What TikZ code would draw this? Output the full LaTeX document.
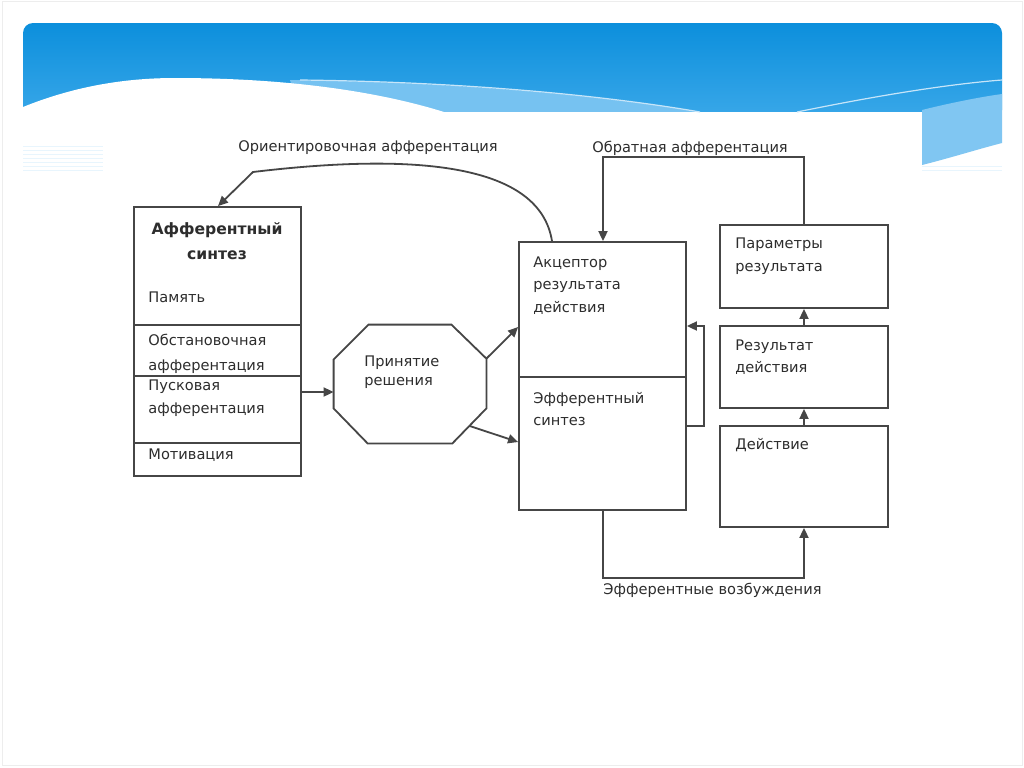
\documentclass[tikz,border=0pt]{standalone}
\usepackage{fontspec}
\setmainfont{DejaVu Sans}
\usetikzlibrary{arrows.meta,fit,calc}

\definecolor{hdrtop}{RGB}{12,143,220}
\definecolor{hdrbot}{RGB}{58,168,233}
\definecolor{hdrlight}{RGB}{128,198,242}
\definecolor{linegray}{RGB}{70,70,70}
\definecolor{txtgray}{RGB}{45,45,45}

\tikzset{
  box/.style={draw=linegray, line width=0.9pt, inner sep=0pt},
  wire/.style={draw=linegray, line width=0.9pt},
  arr/.style={draw=linegray, line width=0.9pt, -{Triangle[length=5pt,width=4.5pt]}},
  lbl/.style={inner sep=0pt, text=txtgray, align=left, font=\fontsize{7.3}{11.25}\selectfont},
}

\begin{document}
\begin{tikzpicture}[x=0.5pt,y=-0.5pt]
\useasboundingbox (0,0) rectangle (1024,767);

% slide background
\fill[white] (0,0) rectangle (1024,767);
\shade[top color=hdrtop,bottom color=hdrbot,rounded corners=5pt] (23,120) -- (23,23) -- (1002,23) -- (1002,120) -- cycle;
\fill[hdrlight] (922,110) .. controls (950,103) and (980,97) .. (1002,94) -- (1002,143) .. controls (975,150) and (950,158) .. (922,165) -- cycle;
\fill[hdrlight!85!hdrbot] (290,80) .. controls (470,82) and (620,98) .. (700,112) -- (300,112) -- cycle;
\fill[white] (23,107) .. controls (70,88) and (120,78) .. (175,78) .. controls (290,78) and (380,92) .. (444,112) -- (23,112) -- cycle;
\fill[white] (23,112) rectangle (922,767);
\draw[white!55!hdrlight, line width=0.6pt] (300,80) .. controls (480,82) and (620,98) .. (700,112);
\draw[white!55!hdrlight, line width=0.6pt] (797,112) .. controls (880,95) and (950,84) .. (1002,80);
\foreach \y in {146,150,...,172}{
  \draw[hdrlight!18, line width=0.4pt] (23,\y) -- (103,\y);
}
\foreach \y in {166,170}{
  \draw[hdrlight!18, line width=0.4pt] (922,\y) -- (1002,\y);
}
\draw[black!7] (2,1) rectangle (1022,765);

% boxes
\node[box, fit={(134,207) (301,476)}] (aff) {};
\draw[wire] (aff.west |- 0,325) -- (aff.east |- 0,325);
\draw[wire] (aff.west |- 0,376) -- (aff.east |- 0,376);
\draw[wire] (aff.west |- 0,443) -- (aff.east |- 0,443);

\node[inner sep=0pt, fit={(334,325) (486,443)}] (dec) {};
\draw[wire] ([xshift=17.5pt]dec.north west) -- ([xshift=-17.5pt]dec.north east)
  -- ([yshift=-17pt]dec.north east) -- ([yshift=17.5pt]dec.south east)
  -- ([xshift=-17pt]dec.south east) -- ([xshift=17pt]dec.south west)
  -- ([yshift=17.5pt]dec.south west) -- ([yshift=-17.5pt]dec.north west) -- cycle;

\node[box, fit={(519,242) (686,510)}] (acc) {};
\draw[wire] (acc.west |- 0,377) -- (acc.east |- 0,377);

\node[box, fit={(720,225) (888,308)}] (par) {};
\node[box, fit={(720,326) (888,408)}] (res) {};
\node[box, fit={(720,426) (888,527)}] (act) {};

% texts
\node[lbl, align=center, font=\bfseries\fontsize{7.8}{12.5}\selectfont] (afftitle) at (217,241) {Афферентный\\синтез};
\node[lbl, anchor=west] (mem) at (148,297) {Память};
\node[lbl, anchor=west, font=\fontsize{7.3}{12.5}\selectfont] (sit) at (148,353.5) {Обстановочная\\афферентация};
\node[lbl, anchor=west, font=\fontsize{7.3}{11.5}\selectfont] (trig) at (148,398.5) {Пусковая\\афферентация};
\node[lbl, anchor=west] (mot) at (148,455) {Мотивация};
\node[lbl, anchor=west, font=\fontsize{7.3}{9.5}\selectfont] (dectxt) at (364,372.5) {Принятие\\решения};
\node[lbl, anchor=west] (acctxt) at (533,285.5) {Акцептор\\результата\\действия};
\node[lbl, anchor=west] (eff) at (533,409) {Эфферентный\\синтез};
\node[lbl, anchor=west] (partxt) at (735,256) {Параметры\\результата};
\node[lbl, anchor=west] (restxt) at (735,357) {Результат\\действия};
\node[lbl, anchor=west] (acttxt) at (735,445) {Действие};
\node[lbl] (orient) at (368,148) {Ориентировочная афферентация};
\node[lbl] (back) at (690,148) {Обратная афферентация};
\node[lbl, anchor=west] (effexc) at (603,590) {Эфферентные возбуждения};

% connectors
\coordinate (bend) at (253,172);
\draw[arr] (acc.north -| 552,0) .. controls (540,165) and (420,152) .. (bend) -- (aff.north -| 218,0);
\draw[arr] (aff.east |- 0,392) -- (dec.west |- 0,392);
\draw[arr] ([yshift=-17pt]dec.north east) -- (acc.west |- 0,327);
\draw[arr] ($([yshift=17.5pt]dec.south east)!0.5!([xshift=-17pt]dec.south east)$) -- (acc.west |- 0,442);
\draw[arr] (acc.east |- 0,426) -- ++(17,0) |- (acc.east |- 0,326);
\draw[arr] (act.north) -- (res.south);
\draw[arr] (res.north) -- (par.south);
\draw[arr] (par.north) -- ++(0,-67) -| (acc.north -| 603,0);
\draw[arr] (acc.south -| 603,0) -- ++(0,67) -| (act.south);

\end{tikzpicture}
\end{document}
